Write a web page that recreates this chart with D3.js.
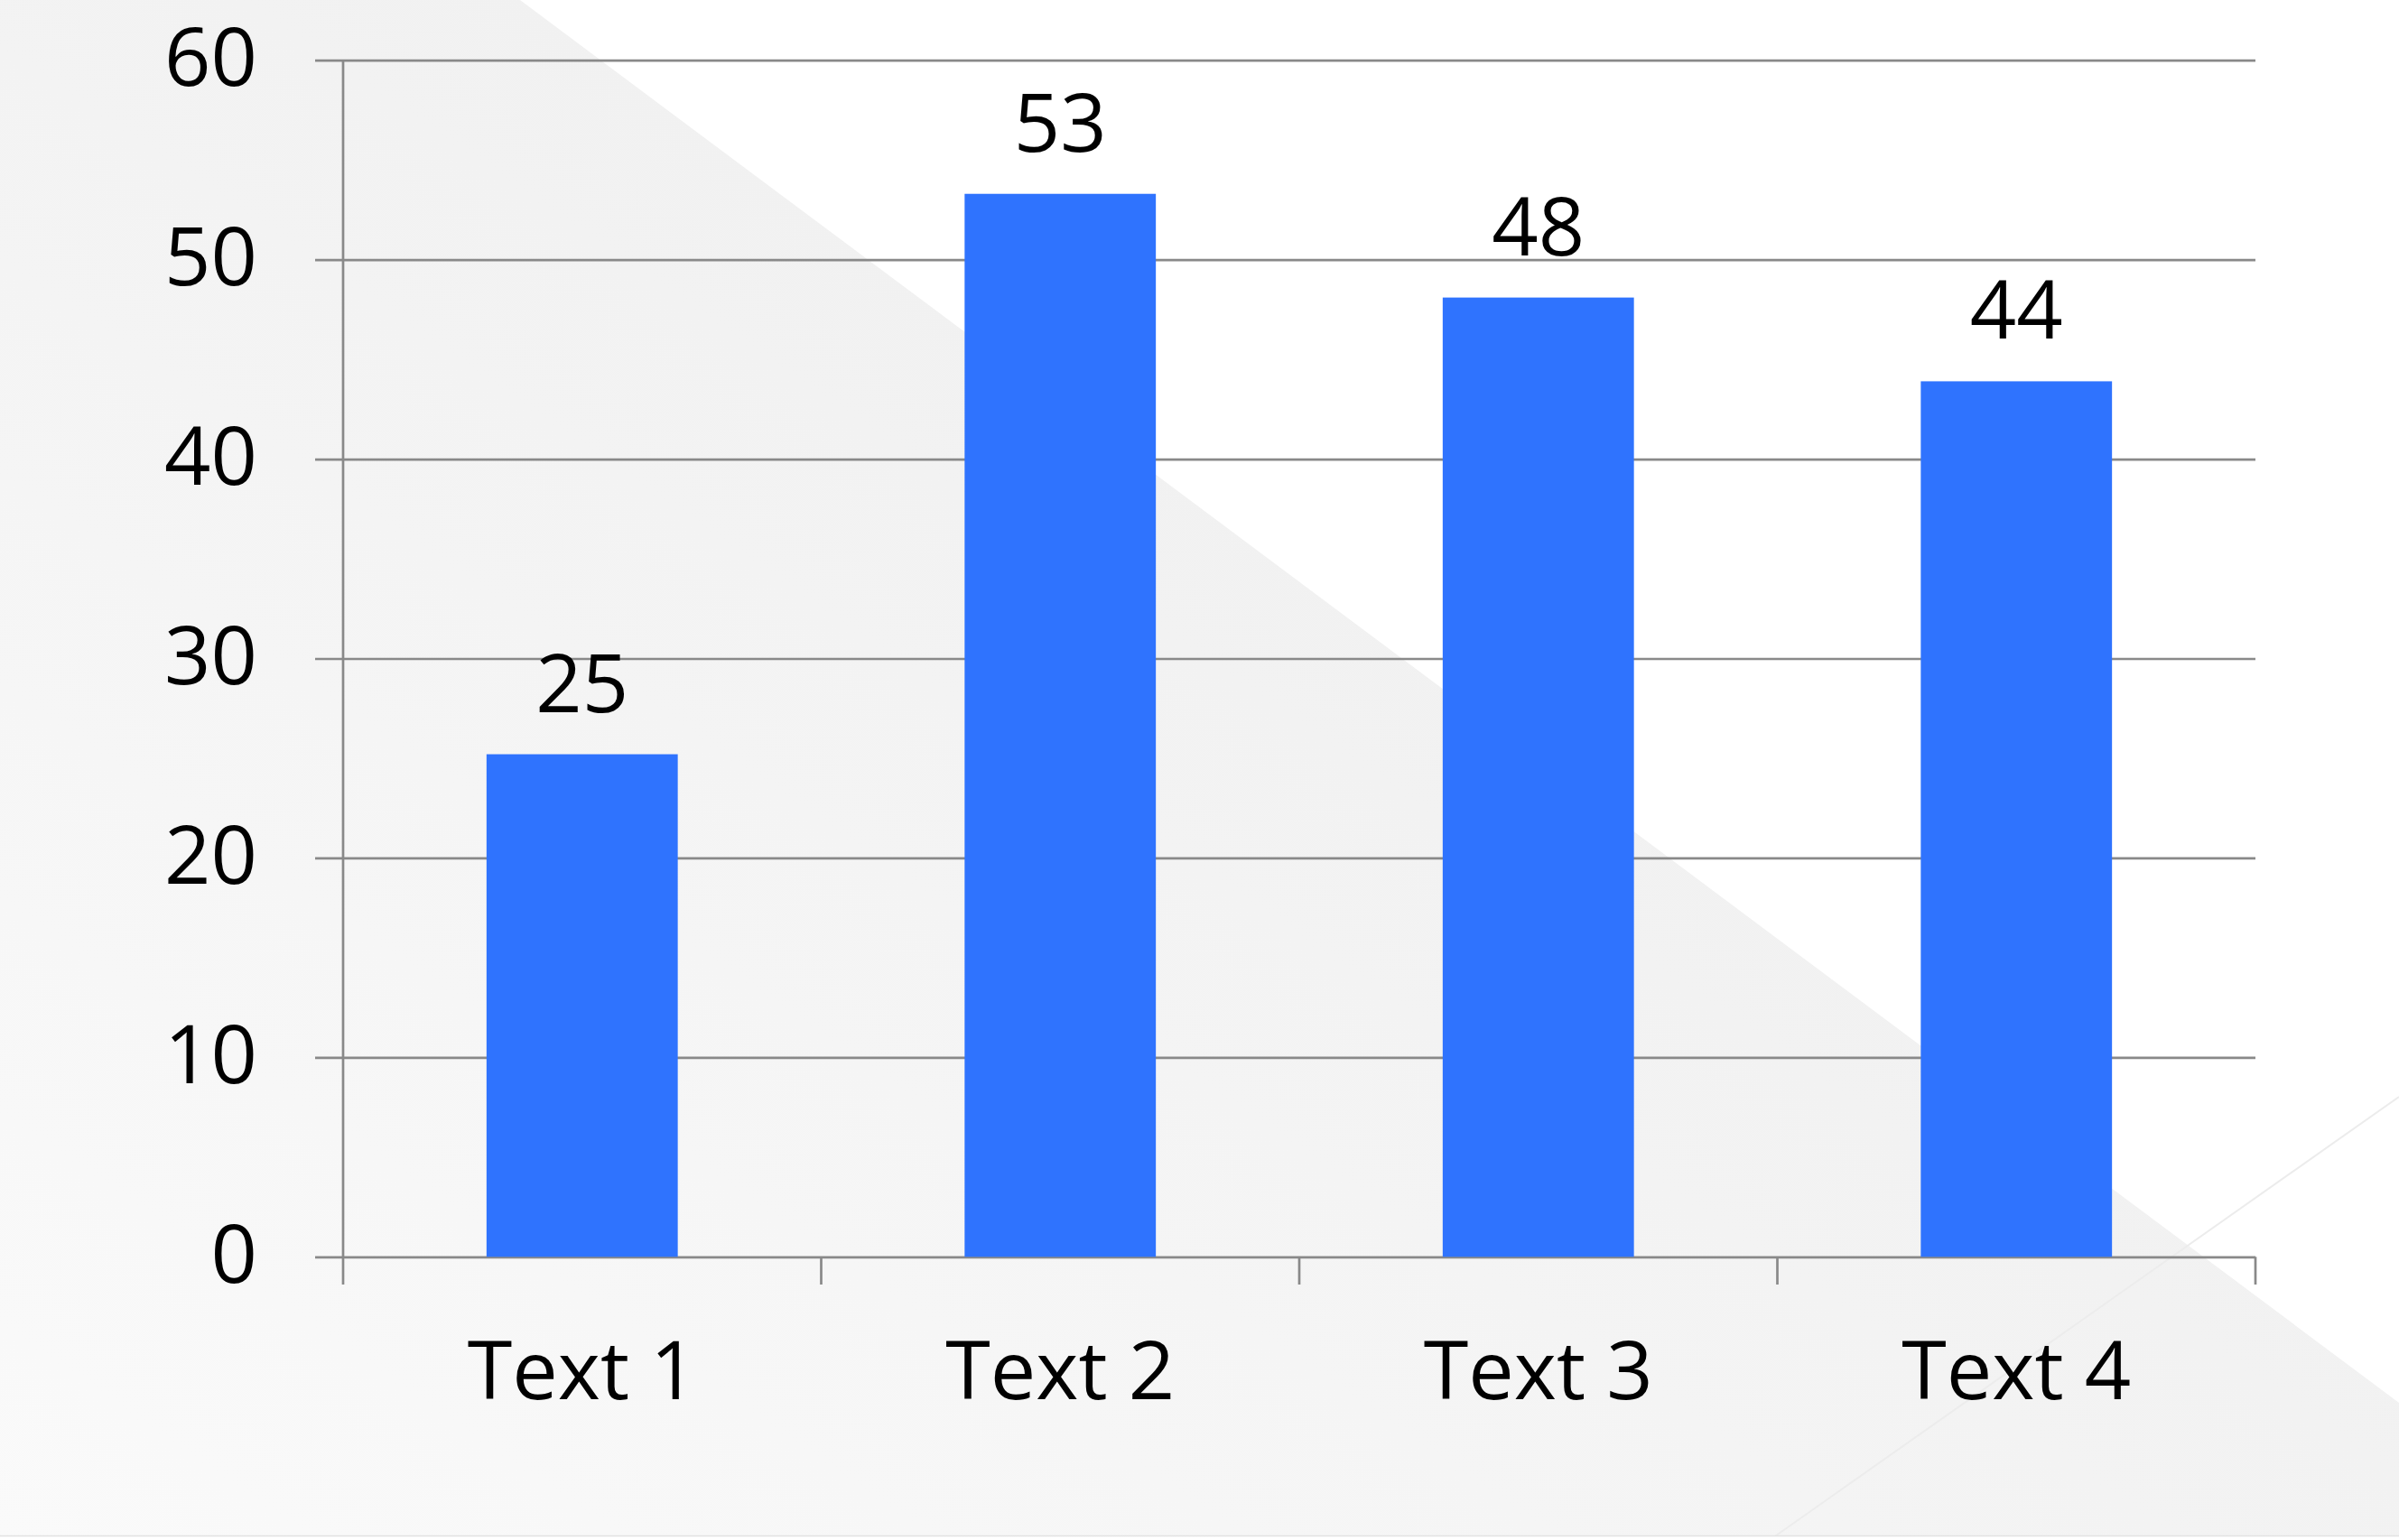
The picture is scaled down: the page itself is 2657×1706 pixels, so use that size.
<!DOCTYPE html>
<html>
<head>
  <meta charset="utf-8">
  <title>Text bar chart</title>
  <script src="https://d3js.org/d3.v7.min.js"></script>
  <style>
    html, body { margin: 0; padding: 0; background: #fff; }
    svg { display: block; }
    .lbl { font-family: "Open Sans", sans-serif; font-size: 90px; fill: #000; }
  </style>
</head>
<body>
  <script>
    var categories = ["Text 1", "Text 2", "Text 3", "Text 4"];
    var values = [25.2, 53.3, 48.1, 43.9];
    var yTicks = [0, 10, 20, 30, 40, 50, 60];

    var W = 2657, H = 1706;
    var plotLeft = 380, plotRight = 2498, plotTop = 66.7, plotBottom = 1392.3;
    var gridColor = "#898989";

    var svg = d3.select("body").append("svg")
        .attr("width", W)
        .attr("height", H);

    // background: soft gray with a white diagonal band
    var defs = svg.append("defs");
    var grad = defs.append("linearGradient")
        .attr("id", "bg")
        .attr("gradientUnits", "userSpaceOnUse")
        .attr("x1", 0).attr("y1", H)
        .attr("x2", 1100).attr("y2", 100);
    grad.append("stop").attr("offset", 0).attr("stop-color", "#fafafa");
    grad.append("stop").attr("offset", 1).attr("stop-color", "#f0f0f0");

    svg.append("rect").attr("width", W).attr("height", H).attr("fill", "url(#bg)");
    svg.append("polygon")
        .attr("points", [[576, 0], [W, 0], [W, 1554]].join(" "))
        .attr("fill", "#ffffff");
    svg.append("line")
        .attr("x1", W).attr("y1", 1215).attr("x2", 1960).attr("y2", H)
        .attr("stroke", "#ececec").attr("stroke-width", 2);
    svg.append("rect")
        .attr("x", 0).attr("y", 1701).attr("width", W).attr("height", 5)
        .attr("fill", "#ffffff");
    svg.append("line")
        .attr("x1", 0).attr("y1", 1701.5).attr("x2", W).attr("y2", 1701.5)
        .attr("stroke", "#e2e2e2").attr("stroke-width", 1.5);

    var y = d3.scaleLinear().domain([0, 60]).range([plotBottom, plotTop]);
    var xb = d3.scaleBand().domain(categories).range([plotLeft, plotRight]).padding(0);
    var x = d3.scaleBand().domain(categories).range([plotLeft, plotRight])
        .paddingInner(0.6).paddingOuter(0.3);

    // y gridlines + labels
    var tickStart = 349;
    var yAxis = d3.axisLeft(y)
        .tickValues(yTicks)
        .tickSize(plotRight - tickStart)
        .tickPadding(64);
    var gy = svg.append("g")
        .attr("transform", "translate(" + plotRight + ",0)")
        .call(yAxis);
    gy.select(".domain").remove();
    gy.selectAll(".tick line")
        .attr("stroke", gridColor)
        .attr("stroke-width", 2.7);
    gy.selectAll(".tick text")
        .attr("class", "lbl")
        .attr("dy", null)
        .attr("y", 28);

    // y axis line
    svg.append("line")
        .attr("x1", plotLeft).attr("x2", plotLeft)
        .attr("y1", plotTop).attr("y2", plotBottom)
        .attr("stroke", gridColor).attr("stroke-width", 2.7);

    // x axis boundary ticks
    var bounds = categories.map(function(c) { return xb(c); }).concat([plotRight]);
    svg.append("g").selectAll("line")
        .data(bounds)
        .join("line")
        .attr("x1", function(d) { return d; })
        .attr("x2", function(d) { return d; })
        .attr("y1", plotBottom)
        .attr("y2", 1423)
        .attr("stroke", gridColor)
        .attr("stroke-width", 2.7);

    // x labels
    var gx = svg.append("g")
        .attr("transform", "translate(0," + plotBottom + ")")
        .call(d3.axisBottom(xb).tickSize(0).tickPadding(0));
    gx.select(".domain").remove();
    gx.selectAll(".tick text")
        .attr("class", "lbl")
        .attr("dy", null)
        .attr("y", 158);

    // bars
    svg.append("g").selectAll("rect")
        .data(values)
        .join("rect")
        .attr("x", function(d, i) { return x(categories[i]); })
        .attr("width", x.bandwidth())
        .attr("y", function(d) { return y(d); })
        .attr("height", function(d) { return plotBottom - y(d); })
        .attr("fill", "#2f73fe");

    // value labels
    var fmt = d3.format(".0f");
    svg.append("g").selectAll("text")
        .data(values)
        .join("text")
        .attr("class", "lbl")
        .attr("text-anchor", "middle")
        .attr("x", function(d, i) { return x(categories[i]) + x.bandwidth() / 2; })
        .attr("y", function(d) { return y(d) - 47; })
        .text(function(d) { return fmt(d); });
  </script>
</body>
</html>
